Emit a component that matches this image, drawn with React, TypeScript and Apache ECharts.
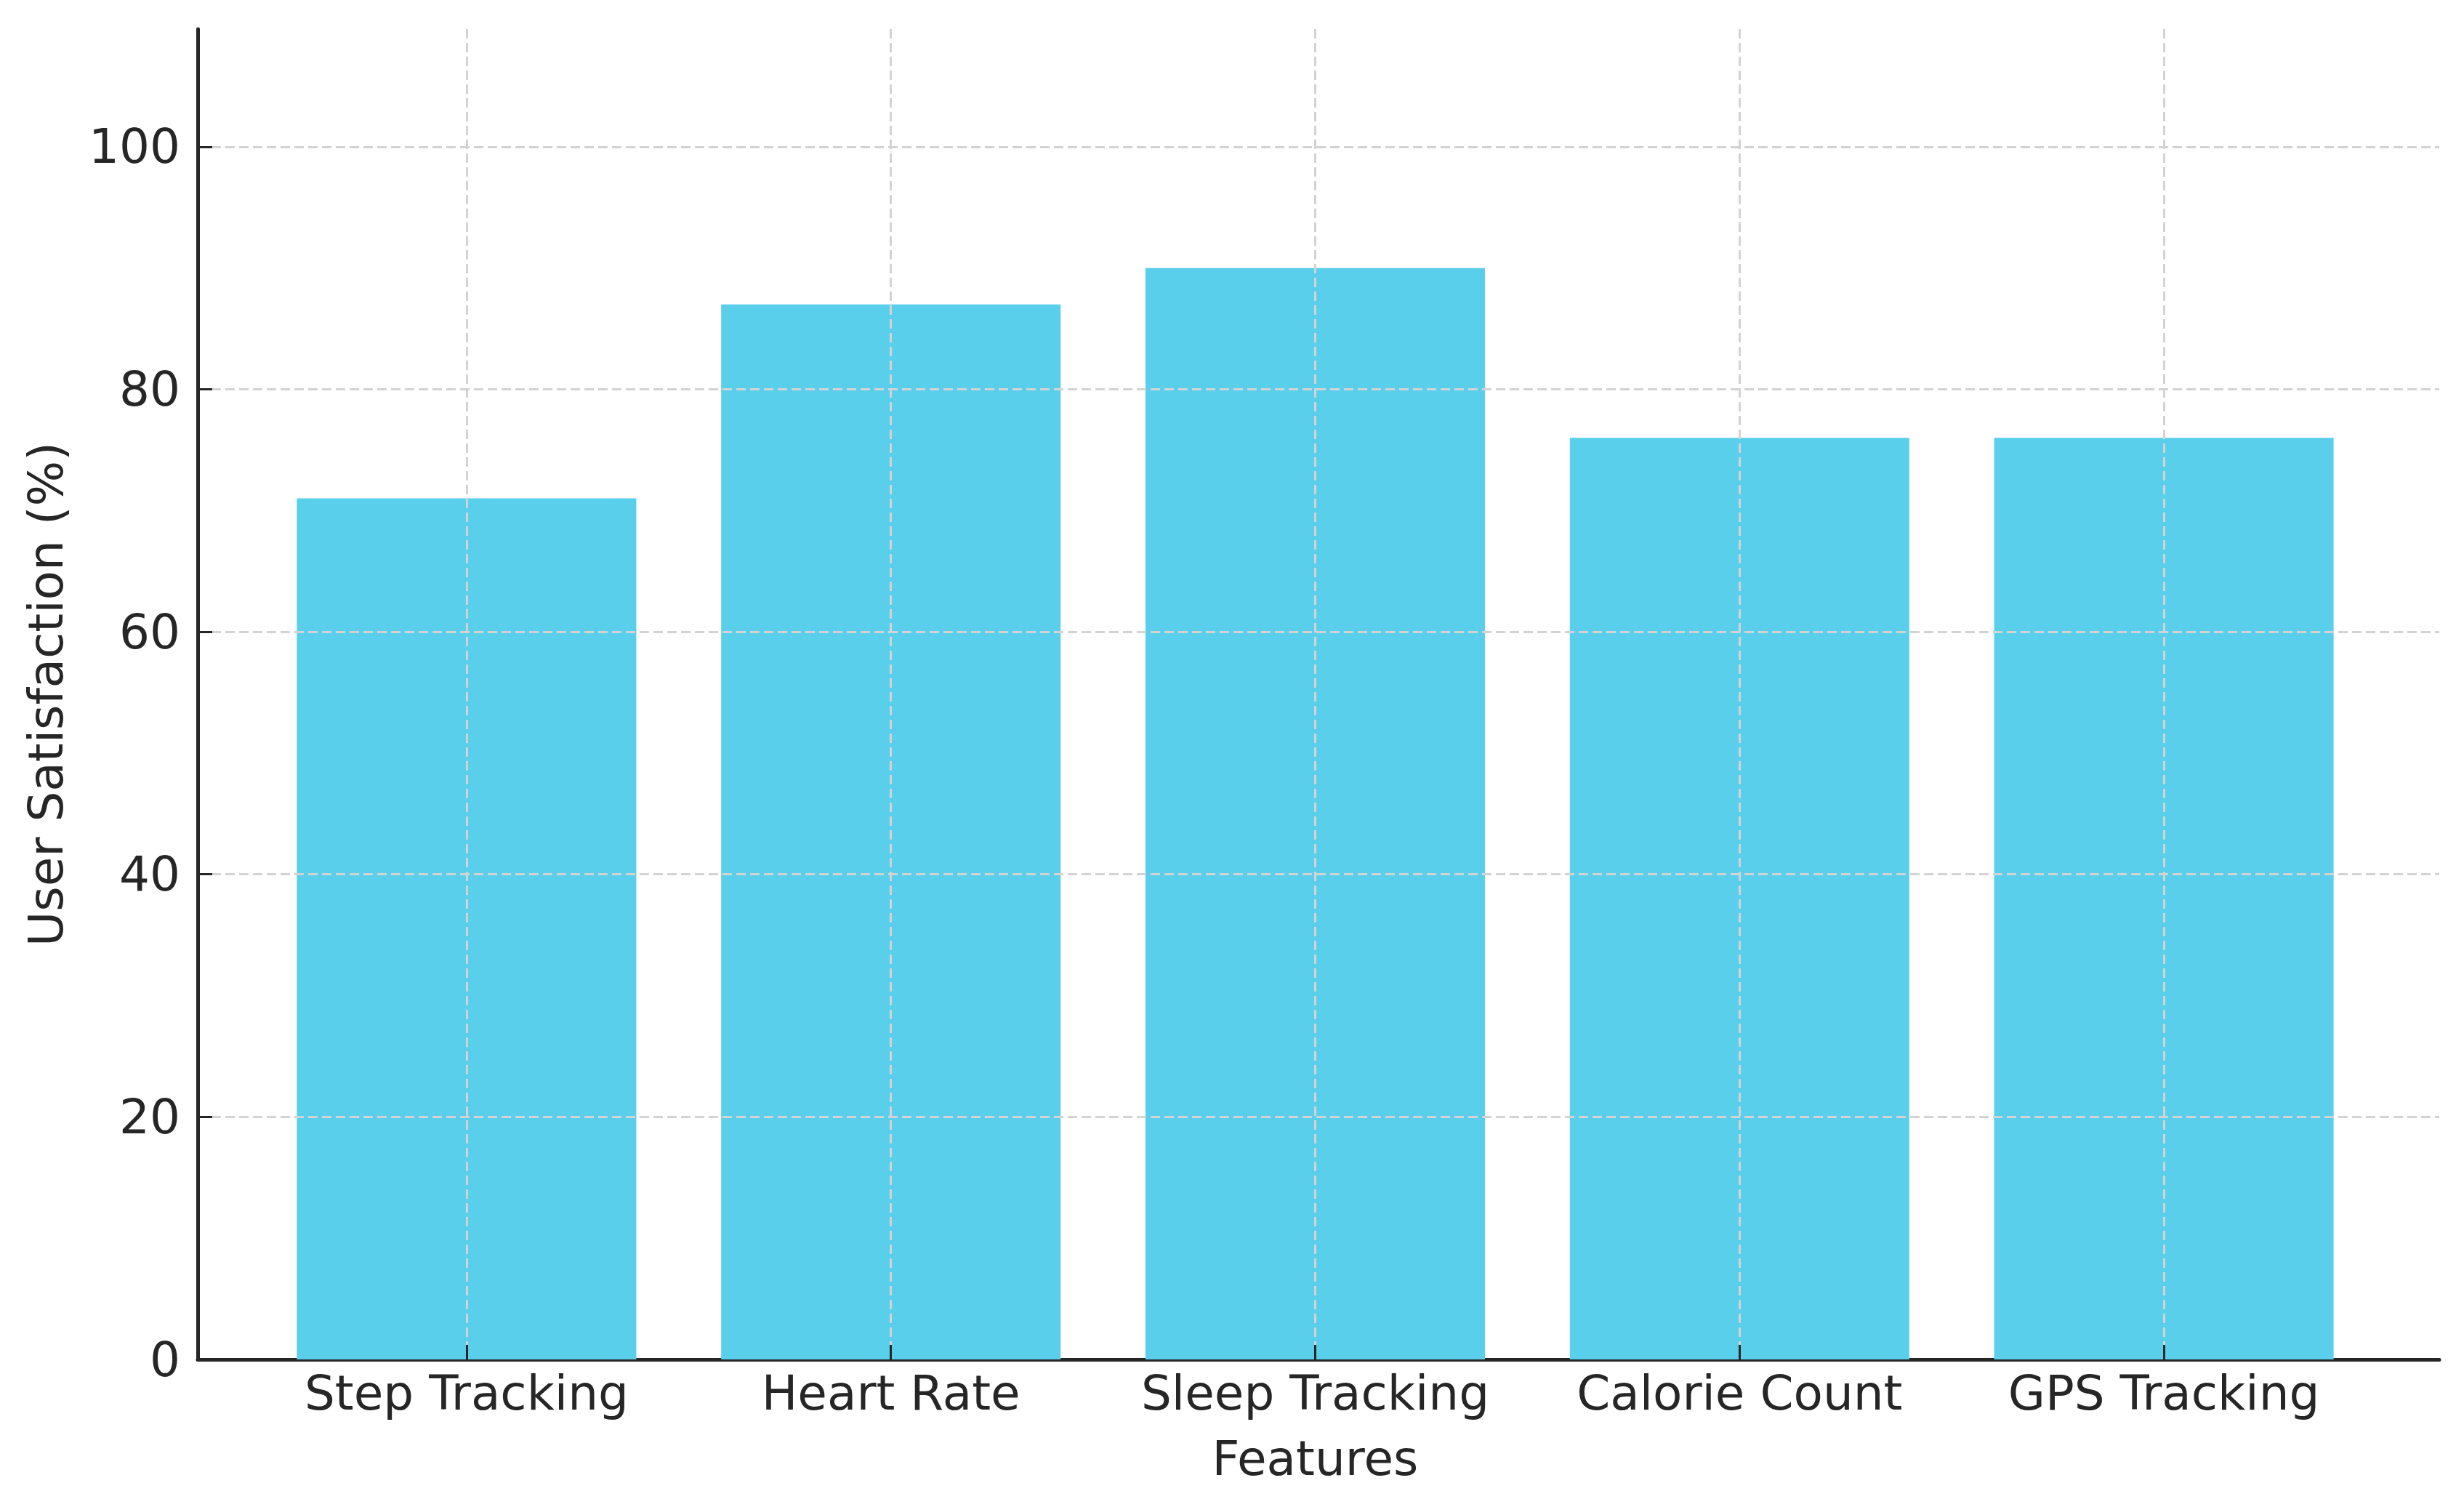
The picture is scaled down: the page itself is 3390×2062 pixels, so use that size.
import React, { useEffect, useRef } from 'react';
import * as echarts from 'echarts';

const categories = ['Step Tracking', 'Heart Rate', 'Sleep Tracking', 'Calorie Count', 'GPS Tracking'];
const satisfaction = [71, 87, 90, 76, 76];
const yTicks = [0, 20, 40, 60, 80, 100];
const yMax = 109.7;
const xAxisTitle = 'Features';
const yAxisTitle = 'User Satisfaction (%)';

export default function App() {
  const ref = useRef<HTMLDivElement>(null);
  useEffect(() => {
    document.body.style.margin = '0';
    const chart = echarts.init(ref.current as HTMLDivElement, null, { renderer: 'svg' });
    const font = 'DejaVu Sans';
    const dark = '#262626';
    const gridColor = '#d3d3d3';
    const top = 40;
    const bottom = 192;
    const fs = 66;
    chart.setOption({
      animation: false,
      backgroundColor: '#ffffff',
      grid: [
        { left: 272, right: 34, top, bottom },
        { left: 350, right: 121, top, bottom },
      ],
      xAxis: [
        {
          gridIndex: 0,
          type: 'value',
          min: 0,
          max: 1,
          axisLine: { show: true, onZero: false, lineStyle: { color: dark, width: 5 } },
          axisTick: { show: false },
          axisLabel: { show: false },
          splitLine: { show: false },
        },
        {
          gridIndex: 1,
          type: 'category',
          data: categories,
          z: 3,
          axisLine: { show: false },
          axisTick: { show: true, inside: true, alignWithLabel: true, interval: 0, length: 20, lineStyle: { color: dark, width: 3 } },
          axisLabel: { color: dark, fontFamily: font, fontSize: fs, margin: 13, interval: 0 },
          splitLine: { show: true, alignWithLabel: true, interval: 0, lineStyle: { color: gridColor, width: 3, type: [13, 6] } },
          name: xAxisTitle,
          nameLocation: 'middle',
          nameGap: 103,
          nameTextStyle: { color: dark, fontFamily: font, fontSize: fs },
        },
      ],
      yAxis: [
        {
          gridIndex: 0,
          type: 'value',
          min: 0,
          max: yMax,
          interval: 20,
          z: 3,
          axisLine: { show: true, lineStyle: { color: dark, width: 5 } },
          axisTick: { show: true, inside: true, length: 20, customValues: yTicks, lineStyle: { color: dark, width: 3 } },
          axisLabel: { color: dark, fontFamily: font, fontSize: fs, margin: 24, customValues: yTicks },
          splitLine: { show: true, showMinLine: false, lineStyle: { color: gridColor, width: 3, type: [13, 6] } },
          name: yAxisTitle,
          nameLocation: 'middle',
          nameGap: 176,
          nameTextStyle: { color: dark, fontFamily: font, fontSize: fs },
        },
        { gridIndex: 1, type: 'value', min: 0, max: yMax, show: false, splitLine: { show: false } },
      ],
      series: [
        {
          type: 'bar',
          xAxisIndex: 1,
          yAxisIndex: 1,
          data: satisfaction,
          barWidth: '80%',
          itemStyle: { color: '#5ACFEC' },
          z: 2,
        },
      ],
    });
    return () => chart.dispose();
  }, []);
  return <div ref={ref} style={{ width: 3390, height: 2062 }} />;
}
